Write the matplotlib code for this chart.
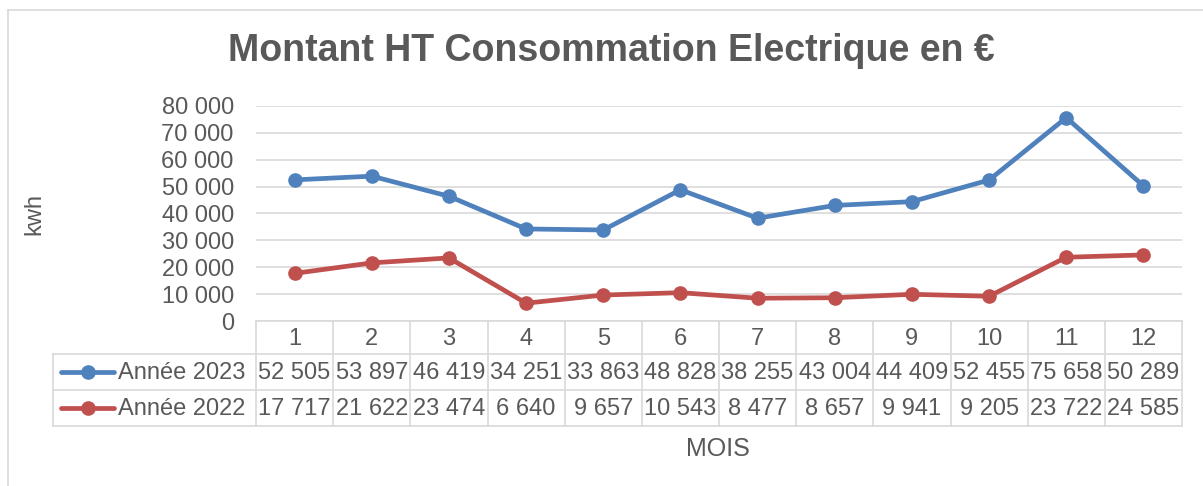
import matplotlib
matplotlib.use("Agg")
import matplotlib.pyplot as plt
from matplotlib.ticker import FuncFormatter, MultipleLocator

plt.rcParams['font.family'] = ['Liberation Sans', 'DejaVu Sans']

months = [1, 2, 3, 4, 5, 6, 7, 8, 9, 10, 11, 12]
series_names = ["Année 2023", "Année 2022"]
values_2023 = [52505, 53897, 46419, 34251, 33863, 48828, 38255, 43004, 44409, 52455, 75658, 50289]
values_2022 = [17717, 21622, 23474, 6640, 9657, 10543, 8477, 8657, 9941, 9205, 23722, 24585]
colors = ["#4F81BD", "#C0504D"]
title = "Montant HT Consommation Electrique en €"
y_label = "kwh"
x_label = "MOIS"

W, H = 1203, 486
fig = plt.figure(figsize=(W / 100, H / 100), dpi=100)
txt = "#595959"
grid = "#D9D9D9"
FS = 17

def fx(px):
    return px / W

def fy(py):
    return 1 - py / H

ov = fig.add_axes([0, 0, 1, 1], zorder=0)
ov.set_xlim(0, W)
ov.set_ylim(H, 0)
ov.axis('off')

ov.plot([8, 8], [10, H], color=grid, lw=1.2)
ov.plot([8, W], [10, 10], color=grid, lw=1.2)

left, right, top, bottom = 256, 1182, 106, 321
ax = fig.add_axes([fx(left), fy(bottom), fx(right) - fx(left), fy(top) - fy(bottom)], zorder=2)
ax.set_xlim(0.5, 12.5)
ax.set_ylim(0, 80000)
ax.yaxis.set_major_locator(MultipleLocator(10000))
ax.yaxis.set_major_formatter(FuncFormatter(lambda v, p: f"{int(v):,}".replace(",", " ")))
ax.grid(axis='y', color=grid, lw=1.2)
ax.set_axisbelow(True)
for s in ['top', 'right', 'left']:
    ax.spines[s].set_visible(False)
ax.spines['bottom'].set_color(grid)
ax.spines['bottom'].set_linewidth(1.2)
ax.tick_params(axis='y', length=0, labelsize=FS, labelcolor=txt, pad=16)
ax.tick_params(axis='x', length=0, labelbottom=False)
ax.patch.set_alpha(0)

for vals, c in zip([values_2023, values_2022], colors):
    ax.plot(months, vals, color=c, lw=3.4, marker='o', markersize=9.5, solid_capstyle='round')

fig.text(fx(611), fy(51), title, ha='center', va='center', fontsize=27, fontweight='bold', color=txt)
fig.text(fx(34), fy(214), y_label, ha='center', va='center', rotation=90, fontsize=FS, color=txt)
fig.text(fx(718), fy(449), x_label, ha='center', va='center', fontsize=18, color=txt)

row_h = [321, 354, 390, 426]
disp = ax.transData
def px_of(xdata):
    return disp.transform((xdata, 0))[0]

bounds = [px_of(m - 0.5) for m in months] + [px_of(12.5)]
for b in bounds:
    ov.plot([b, b], [row_h[0], row_h[3]], color=grid, lw=1.2)
for yy in row_h[1:]:
    ov.plot([53, bounds[-1]], [yy, yy], color=grid, lw=1.2)
ov.plot([53, 53], [row_h[1], row_h[3]], color=grid, lw=1.2)

def fmt(v):
    return f"{v:,}".replace(",", " ")

for i, m in enumerate(months):
    cx = px_of(m)
    ov.text(cx, (row_h[0] + row_h[1]) / 2 + 1, str(m), ha='center', va='center', fontsize=FS, color=txt)
    ov.text(cx, (row_h[1] + row_h[2]) / 2 + 1, fmt(values_2023[i]), ha='center', va='center', fontsize=FS, color=txt)
    ov.text(cx, (row_h[2] + row_h[3]) / 2 + 1, fmt(values_2022[i]), ha='center', va='center', fontsize=FS, color=txt)

for r, (name, c) in enumerate(zip(series_names, colors)):
    yc = (row_h[1 + r] + row_h[2 + r]) / 2
    ov.plot([61, 114], [yc, yc], color=c, lw=3.4, solid_capstyle='round')
    ov.plot([87.5], [yc], marker='o', color=c, markersize=9.5)
    ov.text(118, yc + 1, name, ha='left', va='center', fontsize=FS, color=txt)

fig.savefig("out.png", dpi=100)
